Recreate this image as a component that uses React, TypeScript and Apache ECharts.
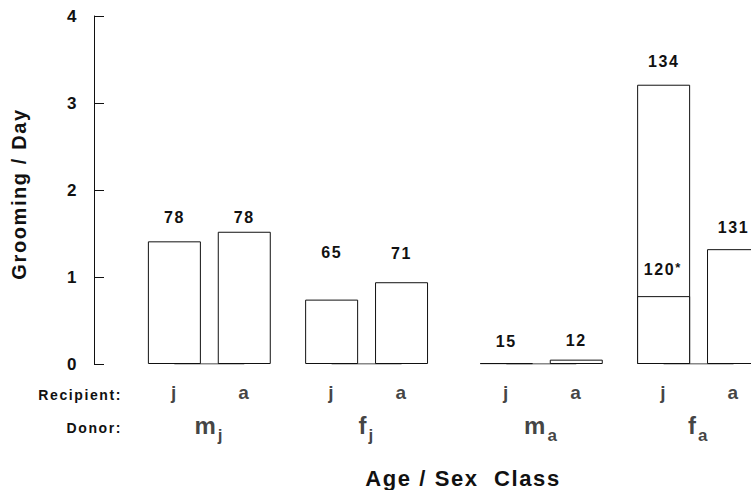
import React, { useEffect, useRef } from "react";
import * as echarts from "echarts";

// ---- data ----
const recipients = ["j", "a", "j", "a", "j", "a", "j", "a"];
const donorBase = ["m", "f", "m", "f"];
const donorSub = ["j", "j", "a", "a"];
const barPositions = [0, 4, 9, 13, 19, 23, 28, 32];
const groomingPerDay = [1.41, 1.52, 0.74, 0.94, 0.01, 0.05, 3.21, 1.32];
const sampleSizes = ["78", "78", "65", "71", "15", "12", "134", "131"];
const innerPosition = 28;
const innerValue = 0.78;
const innerLabel = "120";
const yTicks = [0, 1, 2, 3, 4];

// styling only
const labelDistances = [16, 6, 39, 21, 14, 11, 15, 14];
const FONT = "Liberation Sans";
const INK = "#111";

export default function App() {
  const ref = useRef<HTMLDivElement>(null);
  useEffect(() => {
    if (!ref.current) return;
    const chart = echarts.init(ref.current, undefined, { renderer: "svg" });
    const groupCenters = donorBase.map(
      (_, g) => (barPositions[2 * g] + barPositions[2 * g + 1]) / 2
    );
    const baselineData: any[] = [];
    donorBase.forEach((_, g) => {
      if (g > 0) baselineData.push("-");
      baselineData.push([barPositions[2 * g], 0]);
      baselineData.push([barPositions[2 * g + 1], 0]);
    });
    const option: any = {
      animation: false,
      backgroundColor: "#fff",
      textStyle: { fontFamily: FONT, fontWeight: "bold", color: INK },
      grid: { left: 94, right: 0, top: 16, bottom: 126 },
      xAxis: {
        type: "value",
        min: -4.6,
        max: 33,
        show: false,
      },
      yAxis: {
        type: "value",
        min: yTicks[0],
        max: yTicks[yTicks.length - 1],
        interval: 1,
        axisLine: { show: true, onZero: false, lineStyle: { color: INK, width: 1 } },
        axisTick: { show: true, inside: true, length: 10, lineStyle: { color: INK, width: 1 } },
        axisLabel: {
          margin: 16,
          fontFamily: FONT,
          fontWeight: "bold",
          fontSize: 17,
          color: INK,
        },
        splitLine: { show: false },
      },
      series: [
        {
          type: "bar",
          barWidth: 53,
          barGap: "-100%",
          itemStyle: { color: "#fff", borderColor: INK, borderWidth: 1 },
          label: {
            show: true,
            position: "top",
            fontFamily: FONT,
            fontWeight: "bold",
            fontSize: 16,
            lineHeight: 16,
            color: INK,
            formatter: (p: any) => sampleSizes[p.dataIndex],
          },
          data: barPositions.map((x, i) => ({
            value: [x, groomingPerDay[i]],
            label: { distance: labelDistances[i] },
          })),
          z: 2,
        },
        {
          type: "bar",
          barWidth: 53,
          barGap: "-100%",
          itemStyle: { color: "#fff", borderColor: INK, borderWidth: 1 },
          label: {
            show: true,
            position: "top",
            distance: 19,
            fontFamily: FONT,
            fontWeight: "bold",
            fontSize: 16,
            lineHeight: 16,
            color: INK,
            formatter: () => innerLabel + "{s|*}",
            rich: {
              s: {
                fontFamily: FONT,
                fontWeight: "bold",
                fontSize: 13,
                color: INK,
                verticalAlign: "top",
                lineHeight: 14,
                padding: [0, 0, 0, 3],
              },
            },
          },
          data: [[innerPosition, innerValue]],
          z: 3,
        },
        {
          type: "line",
          data: baselineData,
          symbol: "none",
          lineStyle: { color: INK, width: 1 },
          z: 4,
        },
        {
          type: "scatter",
          symbolSize: 0,
          itemStyle: { color: "transparent" },
          label: {
            show: true,
            position: "bottom",
            distance: 19,
            fontFamily: FONT,
            fontWeight: "bold",
            fontSize: 19,
            lineHeight: 19,
            color: INK,
            formatter: (p: any) => recipients[p.dataIndex],
          },
          data: barPositions.map((x) => [x, 0]),
        },
        {
          type: "scatter",
          symbolSize: 0,
          itemStyle: { color: "transparent" },
          label: {
            show: true,
            position: "bottom",
            distance: 43,
            color: INK,
            formatter: (p: any) =>
              "{m|" + donorBase[p.dataIndex] + "}{s|" + donorSub[p.dataIndex] + "}",
            rich: {
              m: {
                fontFamily: FONT,
                fontWeight: "bold",
                fontSize: 24,
                lineHeight: 37,
                color: INK,
              },
              s: {
                fontFamily: FONT,
                fontWeight: "bold",
                fontSize: 17,
                lineHeight: 17,
                verticalAlign: "bottom",
                padding: [0, 0, 0, 2],
                color: INK,
              },
            },
          },
          data: groupCenters.map((x) => [x, 0]),
        },
      ],
      graphic: [
        {
          type: "text",
          x: 19,
          y: 194,
          rotation: Math.PI / 2,
          style: {
            text: "Grooming / Day",
            fontFamily: FONT,
            fontWeight: "bold",
            fontSize: 20,
            fill: INK,
            align: "center",
            verticalAlign: "middle",
          },
        },
        {
          type: "text",
          x: 122,
          y: 395,
          style: {
            text: "Recipient:",
            fontFamily: FONT,
            fontWeight: "bold",
            fontSize: 14,
            fill: INK,
            align: "right",
            verticalAlign: "middle",
          },
        },
        {
          type: "text",
          x: 122,
          y: 428,
          style: {
            text: "Donor:",
            fontFamily: FONT,
            fontWeight: "bold",
            fontSize: 14,
            fill: INK,
            align: "right",
            verticalAlign: "middle",
          },
        },
        {
          type: "text",
          x: 463,
          y: 478,
          style: {
            text: "Age / Sex  Class",
            fontFamily: FONT,
            fontWeight: "bold",
            fontSize: 22,
            fill: INK,
            align: "center",
            verticalAlign: "middle",
          },
        },
      ],
    };
    chart.setOption(option);
    return () => chart.dispose();
  }, []);
  return (
    <div
      ref={ref}
      style={{
        position: "absolute",
        left: 0,
        top: 0,
        width: 751,
        height: 490,
        letterSpacing: "1.6px",
      }}
    />
  );
}
